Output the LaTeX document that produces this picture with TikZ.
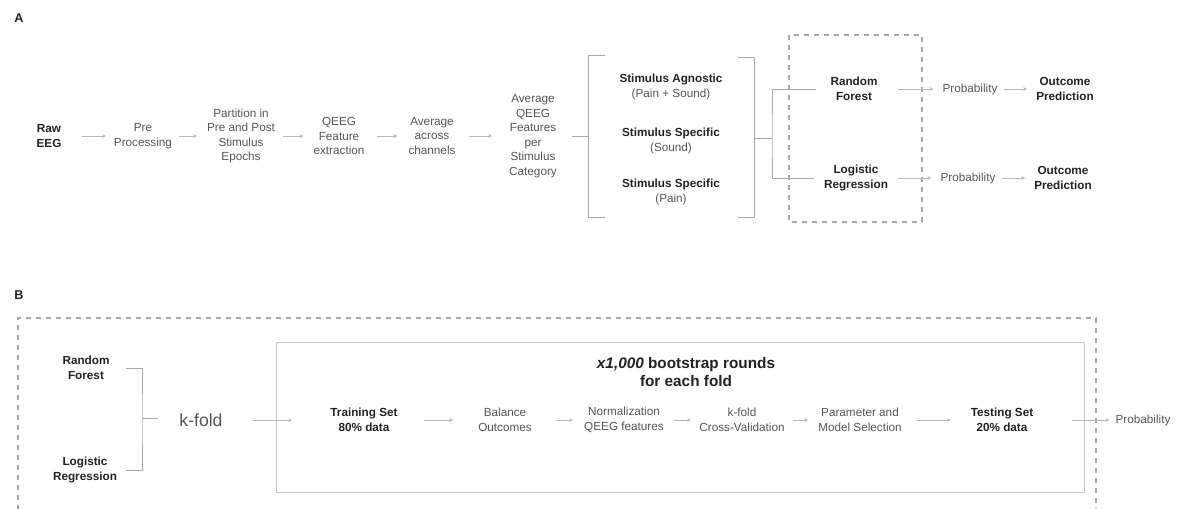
\documentclass[tikz,border=0pt]{standalone}
\usepackage{fontspec}
\setmainfont{Liberation Sans}
\usetikzlibrary{arrows.meta}
\definecolor{txt}{HTML}{555555}
\definecolor{btxt}{HTML}{222222}
\definecolor{arrc}{HTML}{B8B8B8}
\definecolor{brc}{HTML}{A8A8A8}
\definecolor{ibc}{HTML}{C4C4C4}
\begin{document}
\begin{tikzpicture}[x=0.75pt,y=-0.75pt,
  lbl/.style={text=txt,align=center,font=\fontsize{8.8}{10.9}\selectfont,inner sep=0pt},
  blbl/.style={lbl,text=btxt,font=\fontsize{8.8}{10.9}\selectfont\bfseries},
  panel/.style={text=btxt,font=\fontsize{9.5}{11}\selectfont\bfseries,inner sep=0pt},
  arr/.style={draw=arrc,line width=0.5pt,-{Stealth[length=2.8pt,width=2.8pt]}},
  brk/.style={draw=brc,line width=0.7pt},
  dbox/.style={draw=brc,line width=0.8pt,dash pattern=on 4pt off 3.5pt},
  ibox/.style={draw=ibc,line width=0.7pt}]
\useasboundingbox (0,0) rectangle (1186,508);

% ---------------- Panel A ----------------
\node[panel] (labA) at (19,18) {A};

\node[blbl] (raw)  at (49,136)  {Raw\\EEG};
\node[lbl]  (pre)  at (143,136) {Pre\\Processing};
\node[lbl]  (part) at (241,136) {Partition in\\Pre and Post\\Stimulus\\Epochs};
\node[lbl]  (qeeg) at (339,136) {QEEG\\Feature\\extraction};
\node[lbl]  (avg)  at (432,136) {Average\\across\\channels};
\node[lbl]  (avgq) at (533,136) {Average\\QEEG\\Features\\per\\Stimulus\\Category};

\draw[arr] ([xshift=15pt]raw.east)   -- ([xshift=-6pt]pre.west);
\draw[arr] ([xshift=5.25pt]pre.east) -- ([xshift=-7.5pt]part.west);
\draw[arr] ([xshift=6pt]part.east)   -- ([xshift=-7.5pt]qeeg.west);
\draw[arr] ([xshift=9pt]qeeg.east)   -- ([xshift=-8.25pt]avg.west);
\draw[arr] ([xshift=9.75pt]avg.east) -- ([xshift=-12.75pt]avgq.west);

% left bracket
\coordinate (lbm) at (588,136);
\draw[brk] ([xshift=11.25pt]avgq.east) -- (lbm);
\draw[brk] (605,55) -- (588,55) -- (588,217) -- (605,217);

\node[lbl] (sa) at (671,87)  {{\bfseries\color{btxt}Stimulus Agnostic}\\(Pain + Sound)};
\node[lbl] (ss) at (671,141) {{\bfseries\color{btxt}Stimulus Specific}\\(Sound)};
\node[lbl] (sp) at (671,192) {{\bfseries\color{btxt}Stimulus Specific}\\(Pain)};

% right bracket
\draw[brk] (738,57) -- (754,57) -- (754,217) -- (738,217);
\coordinate (rbm) at (754,138);
\coordinate (fork) at (772,138);
\draw[brk] (rbm) -- (fork);

% dashed model box
\draw[dbox] (789,35) rectangle (922,222);

\node[blbl] (rf) at (854,89)  {Random\\Forest};
\node[blbl] (lr) at (856,178) {Logistic\\Regression};

\draw[brk] ([xshift=-10.5pt]rf.west) -| (fork) |- ([xshift=-7.5pt]lr.west);

\node[lbl]  (p1) at (970,89)   {Probability};
\node[blbl] (o1) at (1065,89)  {Outcome\\Prediction};
\node[lbl]  (p2) at (968,178)  {Probability};
\node[blbl] (o2) at (1063,178) {Outcome\\Prediction};

\draw[arr] ([xshift=15pt]rf.east)  -- ([xshift=-6.75pt]p1.west);
\draw[arr] ([xshift=4.5pt]p1.east) -- ([xshift=-6.75pt]o1.west);
\draw[arr] ([xshift=7.5pt]lr.east) -- ([xshift=-6.75pt]p2.west);
\draw[arr] ([xshift=4.5pt]p2.east) -- ([xshift=-6.75pt]o2.west);

% ---------------- Panel B ----------------
\node[panel] (labB) at (19,295) {B};

\draw[dbox] (18,510) -- (18,318) -- (1096,318) -- (1096,510);
\draw[ibox] (276,342) rectangle (1084,492);

\node[text=btxt,align=center,inner sep=0pt,font=\fontsize{11.5}{13.5}\selectfont\bfseries]
  (title) at (686,372) {\textit{x1,000} bootstrap rounds\\for each fold};

\node[blbl] (rfb) at (86,368) {Random\\Forest};
\node[blbl] (lrb) at (85,470) {Logistic\\Regression};
\coordinate (bfork) at (142,418);
\draw[brk] ([xshift=12pt]rfb.east) -| (bfork) |- ([xshift=6.75pt]lrb.east);
\draw[brk] (bfork) -- ++(16,0) coordinate (bforkend);

\node[text=txt,inner sep=0pt,font=\fontsize{13.2}{15}\selectfont] (kfold) at (201,420) {k-fold};

\node[blbl] (train) at (364,420) {Training Set\\80\% data};
\node[lbl]  (bal)   at (505,420) {Balance\\Outcomes};
\node[lbl]  (norm)  at (624,420) {Normalization\\QEEG features};
\node[lbl]  (kcv)   at (742,420) {k-fold\\Cross-Validation};
\node[lbl]  (param) at (860,420) {Parameter and\\Model Selection};
\node[blbl] (test)  at (1002,420) {Testing Set\\20\% data};
\node[lbl]  (probB) at (1143,420) {Probability};

\draw[arr] ([xshift=22.5pt]kfold.east) -- ([xshift=-28.5pt]train.west);
\draw[arr] ([xshift=19.5pt]train.east) -- ([xshift=-18.75pt]bal.west);
\draw[arr] ([xshift=18pt]bal.east)     -- ([xshift=-8.25pt]norm.west);
\draw[arr] ([xshift=7.5pt]norm.east)   -- ([xshift=-6pt]kcv.west);
\draw[arr] ([xshift=6pt]kcv.east)      -- ([xshift=-7.5pt]param.west);
\draw[arr] ([xshift=11.25pt]param.east)-- ([xshift=-15pt]test.west);
\draw[arr] ([xshift=29.25pt]test.east) -- ([xshift=-4.5pt]probB.west);
\end{tikzpicture}
\end{document}
